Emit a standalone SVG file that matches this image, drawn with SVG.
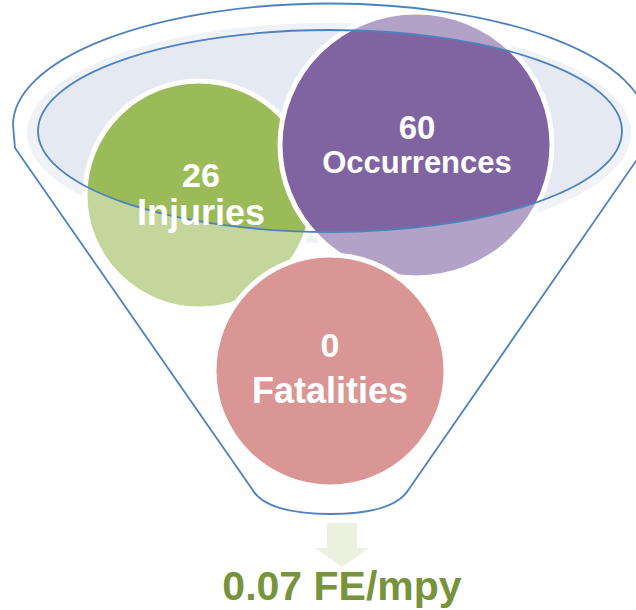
<svg xmlns="http://www.w3.org/2000/svg" width="636" height="610" viewBox="0 0 636 610">
<style>
.lbl{font-family:"Liberation Sans",Arial,sans-serif;font-weight:bold;fill:#FFFFFF;text-anchor:middle}
.outline{fill:none;stroke:#4F81BD;stroke-width:1.8}
.circ{stroke:#FFFFFF;stroke-width:5}
</style>
<defs>
<path id="funnelShape" d="M15,148 L13,125 A317,121.5 0 0 1 647,125 L645,148 L409,489 C399,506 370,514 330,514 C290,514 261,506 252,489 Z"/>
</defs>
<g id="funnel">
<use href="#funnelShape" fill="#FFFFFF"/>
<ellipse cx="329" cy="133" rx="302" ry="110" fill="#E4E9F2"/>
</g>
<g id="injuries">
<circle class="circ" cx="199" cy="195" r="114" fill="#9BBB59"/>
</g>
<g id="occurrences">
<ellipse class="circ" cx="416" cy="145" rx="136" ry="133" fill="#8064A2"/>
</g>
<g id="fatalities">
<circle class="circ" cx="330" cy="371" r="116" fill="#C0504D"/>
</g>
<g id="funnel-glass">
<path fill="#FFFFFF" fill-opacity="0.4" fill-rule="evenodd" d="M15,148 L13,125 A317,121.5 0 0 1 647,125 L645,148 L409,489 C399,506 370,514 330,514 C290,514 261,506 252,489 Z M38,131 A292,101 0 1 0 622,131 A292,101 0 1 0 38,131 Z"/>
<ellipse class="outline" cx="330" cy="131" rx="292" ry="101"/>
<use href="#funnelShape" class="outline"/>
</g>
<g id="injuries-label">
<text class="lbl" x="201" y="187" font-size="34">26</text>
<text class="lbl" x="201" y="225" font-size="36">Injuries</text>
</g>
<g id="occurrences-label">
<text class="lbl" x="417" y="139" font-size="33">60</text>
<text class="lbl" x="417" y="173" font-size="31">Occurrences</text>
</g>
<g id="fatalities-label">
<text class="lbl" x="330" y="357" font-size="34">0</text>
<text class="lbl" x="330" y="403" font-size="36">Fatalities</text>
</g>
<g id="connectors">
<path d="M327,523 L357,523 L357,548 L369,548 L342,567 L315,548 L327,548 Z" fill="#EBF1DE"/>
</g>
<g id="result">
<text x="342" y="600" font-family="'Liberation Sans',Arial,sans-serif" font-weight="bold" font-size="41" fill="#77933C" text-anchor="middle">0.07 FE/mpy</text>
</g>
</svg>
